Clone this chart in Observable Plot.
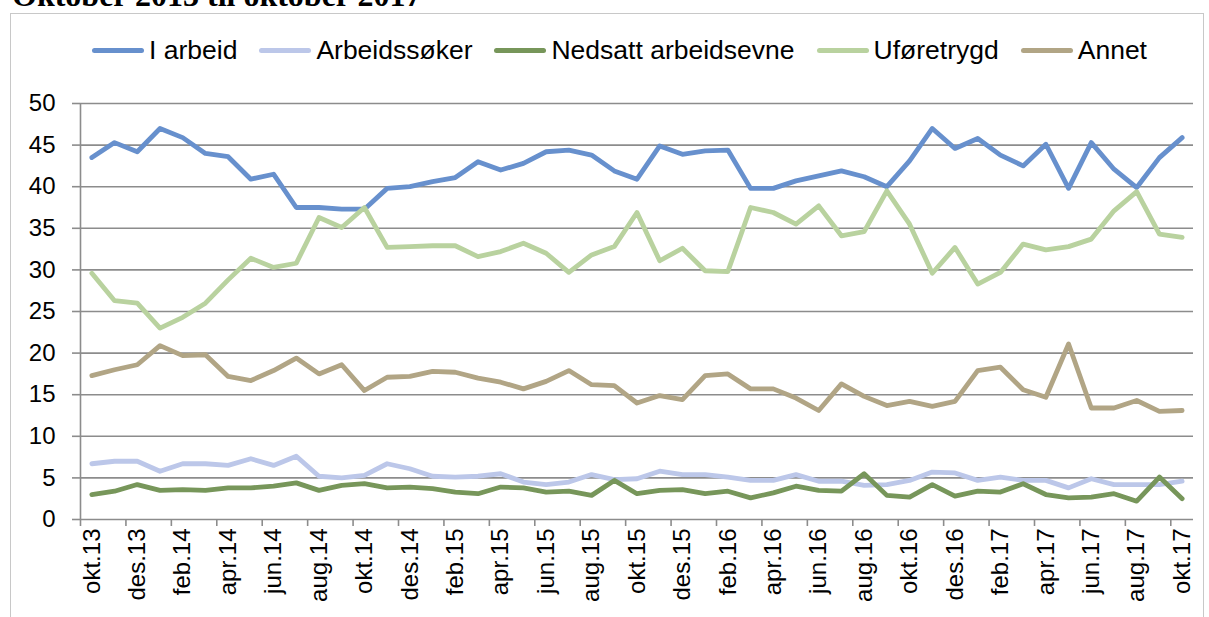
<!DOCTYPE html>
<html>
<head>
<meta charset="utf-8">
<script src="https://cdn.jsdelivr.net/npm/d3@7"></script>
<script src="https://cdn.jsdelivr.net/npm/@observablehq/plot@0.6"></script>
<style>
  html, body { margin: 0; padding: 0; background: #fff; }
  #wrap { position: relative; width: 1209px; height: 617px; overflow: hidden; font-family: "Liberation Sans", Arial, sans-serif; }
  #frame { position: absolute; left: 10px; top: 13px; width: 1194px; height: 640px; border: 1.5px solid #c8c8c8; box-sizing: border-box; }
  #title { position: absolute; left: 12px; top: -20px; font-family: "Liberation Serif", "Times New Roman", serif; font-weight: bold; font-size: 32px; line-height: 31px; white-space: nowrap; color: #000; }
  #legend { position: absolute; left: 0; width: 1209px; top: 35px; height: 30px; display: flex; justify-content: center; align-items: center; gap: 22px; padding-left: 30px; box-sizing: border-box; }
  .item { display: flex; align-items: center; gap: 5px; font-size: 26.5px; color: #000; white-space: nowrap; }
  .sw { width: 52px; height: 5px; border-radius: 3px; }
  #chart { position: absolute; left: 0; top: 0; }
</style>
</head>
<body>
<div id="wrap">
  <div id="frame"></div>
  <div id="title">Oktober 2013 til oktober 2017</div>
  <div id="legend"></div>
  <div id="chart"></div>
</div>
<script>
const months = ["okt.13","nov.13","des.13","jan.14","feb.14","mar.14","apr.14","mai.14","jun.14","jul.14","aug.14","sep.14",
  "okt.14","nov.14","des.14","jan.15","feb.15","mar.15","apr.15","mai.15","jun.15","jul.15","aug.15","sep.15",
  "okt.15","nov.15","des.15","jan.16","feb.16","mar.16","apr.16","mai.16","jun.16","jul.16","aug.16","sep.16",
  "okt.16","nov.16","des.16","jan.17","feb.17","mar.17","apr.17","mai.17","jun.17","jul.17","aug.17","sep.17","okt.17"];

const iArbeid = [43.5,45.3,44.2,47.0,45.9,44.0,43.6,40.9,41.5,37.5,37.5,37.3,37.3,39.8,40.0,40.6,41.1,43.0,42.0,42.8,44.2,44.4,43.8,41.9,40.9,44.9,43.9,44.3,44.4,39.8,39.8,40.7,41.3,41.9,41.2,40.0,43.1,47.0,44.6,45.8,43.8,42.5,45.1,39.8,45.3,42.1,39.9,43.5,45.9];
const arbeidssoker = [6.7,7.0,7.0,5.8,6.7,6.7,6.5,7.3,6.5,7.6,5.2,5.0,5.3,6.7,6.1,5.2,5.1,5.2,5.5,4.5,4.2,4.5,5.4,4.8,4.9,5.8,5.4,5.4,5.1,4.7,4.7,5.4,4.6,4.6,4.1,4.2,4.7,5.7,5.6,4.7,5.1,4.7,4.7,3.8,4.9,4.2,4.2,4.2,4.6];
const nedsatt = [3.0,3.4,4.2,3.5,3.6,3.5,3.8,3.8,4.0,4.4,3.5,4.1,4.3,3.8,3.9,3.7,3.3,3.1,3.9,3.8,3.3,3.4,2.9,4.7,3.1,3.5,3.6,3.1,3.4,2.6,3.2,4.0,3.5,3.4,5.5,2.9,2.7,4.2,2.8,3.4,3.3,4.3,3.0,2.6,2.7,3.1,2.2,5.1,2.5];
const uforetrygd = [29.6,26.3,26.0,23.0,24.3,26.0,28.8,31.4,30.3,30.8,36.3,35.1,37.5,32.7,32.8,32.9,32.9,31.6,32.2,33.2,32.0,29.7,31.8,32.8,36.9,31.1,32.6,29.9,29.8,37.5,36.9,35.5,37.7,34.1,34.6,39.5,35.5,29.6,32.7,28.3,29.7,33.1,32.4,32.8,33.7,37.1,39.4,34.3,33.9];
const annet = [17.3,18.0,18.6,20.9,19.7,19.8,17.2,16.7,17.9,19.4,17.5,18.6,15.5,17.1,17.2,17.8,17.7,17.0,16.5,15.7,16.6,17.9,16.2,16.1,14.0,14.9,14.4,17.3,17.5,15.7,15.7,14.6,13.1,16.3,14.8,13.7,14.2,13.6,14.2,17.9,18.3,15.6,14.7,21.1,13.4,13.4,14.3,13.0,13.1];

const seriesNames = ["I arbeid","Arbeidssøker","Nedsatt arbeidsevne","Uføretrygd","Annet"];
const seriesValues = [iArbeid, arbeidssoker, nedsatt, uforetrygd, annet];
const seriesColors = ["#6790cd","#bcc7e9","#77965a","#b9d29f","#b1a585"];
const yTicks = [0,5,10,15,20,25,30,35,40,45,50];

const idx = months.map((m, i) => i);
const labelIdx = idx.filter(i => i % 2 === 0);
const boundaryIdx = labelIdx.map(i => i - 0.5);

// legend
const legend = document.getElementById("legend");
seriesNames.forEach((n, k) => {
  const it = document.createElement("div");
  it.className = "item";
  const sw = document.createElement("div");
  sw.className = "sw";
  sw.style.background = seriesColors[k];
  const tx = document.createElement("span");
  tx.textContent = n;
  it.appendChild(sw); it.appendChild(tx);
  legend.appendChild(it);
});

const grid = "#8c8c8c";
const marks = [
  Plot.ruleY(yTicks, {stroke: grid, strokeWidth: 1.6}),
  Plot.ruleX([-0.5], {y1: 0, y2: 50, stroke: grid, strokeWidth: 1.6}),
  Plot.axisY({ticks: yTicks, tickSize: 8, tickPadding: 17, stroke: grid, strokeWidth: 1.6, fontSize: 24, fill: "#000", label: null}),
  Plot.axisX({ticks: boundaryIdx, tickSize: 7, tickFormat: () => "", stroke: grid, strokeWidth: 1.6, label: null}),
  Plot.axisX({ticks: labelIdx, tickSize: 0, tickPadding: 9, tickRotate: -90, tickFormat: i => months[i], fontSize: 24, fill: "#000", label: null}),
  ...seriesValues.map((vals, k) => Plot.lineY(idx, {x: i => i, y: i => vals[i], stroke: seriesColors[k], strokeWidth: 4.8, strokeLinejoin: "round", strokeLinecap: "round"}))
];

const chart = Plot.plot({
  width: 1209,
  height: 617,
  marginLeft: 80,
  marginRight: 16,
  marginTop: 103,
  marginBottom: 98,
  x: {type: "linear", domain: [-0.5, 48.5]},
  y: {domain: [0, 50]},
  style: {fontFamily: "'Liberation Sans', Arial, sans-serif", background: "transparent", overflow: "visible"},
  marks
});
document.getElementById("chart").appendChild(chart);
</script>
</body>
</html>
